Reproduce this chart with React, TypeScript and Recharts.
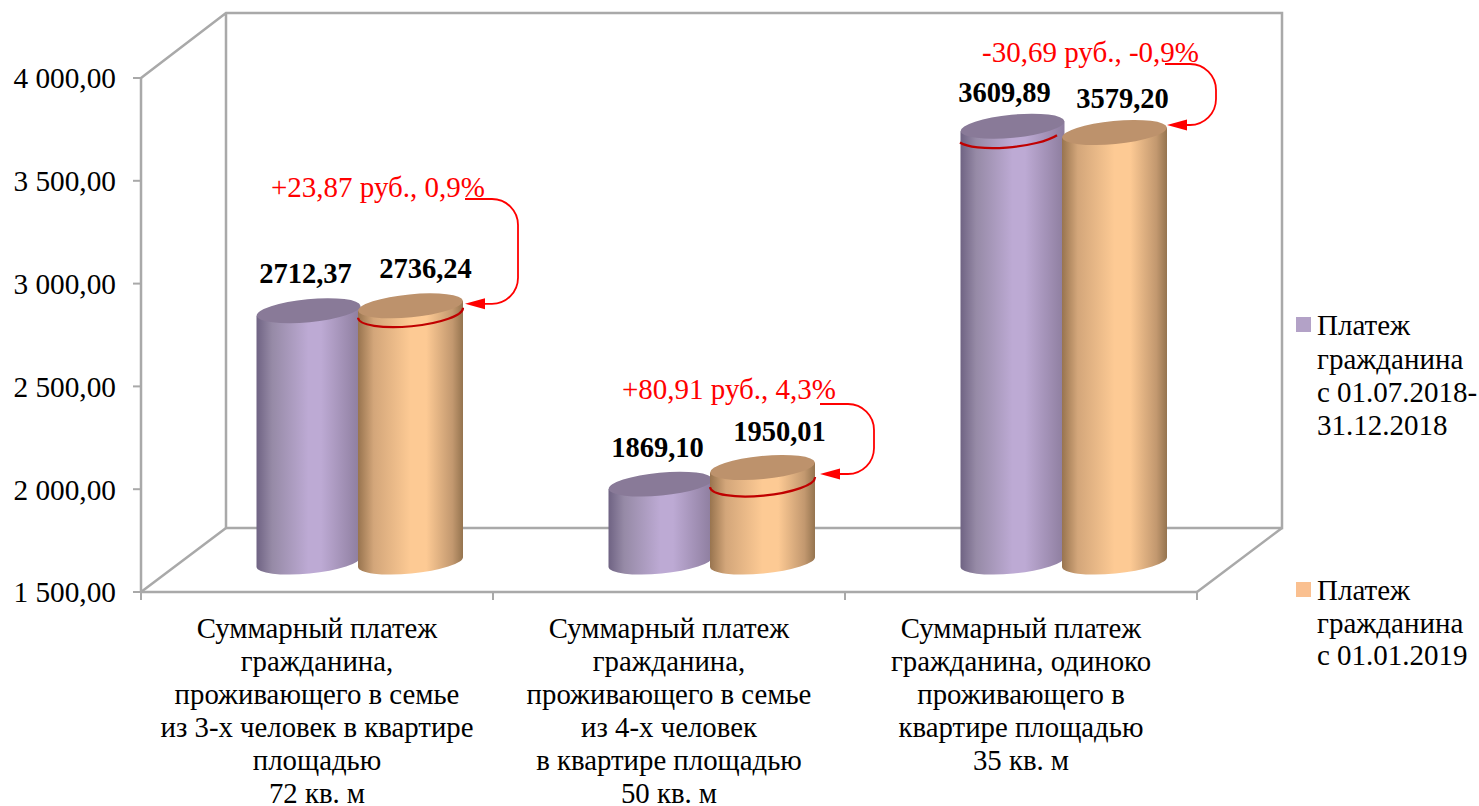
import React from "react";
import { BarChart, Bar, XAxis, YAxis, LabelList } from "recharts";

const categories = ["group1", "group2", "group3"];
const categoryLines = [
  ["Суммарный платеж", "гражданина,", "проживающего в семье", "из 3-х человек в квартире", "площадью", "72 кв. м"],
  ["Суммарный платеж", "гражданина,", "проживающего в семье", "из 4-х человек", "в квартире площадью", "50 кв. м"],
  ["Суммарный платеж", "гражданина, одиноко", "проживающего в", "квартире площадью", "35 кв. м"],
];
const payment2018 = [2712.37, 1869.1, 3609.89];
const payment2019 = [2736.24, 1950.01, 3579.2];
const notes = ["+23,87 руб., 0,9%", "+80,91 руб., 4,3%", "-30,69 руб., -0,9%"];
const yTicks = [1500, 2000, 2500, 3000, 3500, 4000];
const legend2018 = ["Платеж", "гражданина", "с 01.07.2018-", "31.12.2018"];
const legend2019 = ["Платеж", "гражданина", "с 01.01.2019"];

const data = categories.map((c, i) => ({
  category: c,
  a: payment2018[i],
  b: payment2019[i],
  note: notes[i],
  lines: categoryLines[i],
}));

const W = 1479;
const H = 806;
const L = 141;
const T = 78;
const R = 1197;
const B = 592;
const DX = 85;
const DY = 64;
const SCALE = (B - T) / (4000 - 1500);
const FONT = "'Liberation Serif', 'Times New Roman', serif";
const GRID = "#a9a9a9";
const ANG = 5.5;
const RY = 11.5;
const EDGE = 5;

const fmtTick = (v: number) => {
  const s = v.toFixed(2).replace(".", ",");
  return s.slice(0, 1) + " " + s.slice(1);
};
const fmtVal = (v: number) => v.toFixed(2).replace(".", ",");

function Frame() {
  const bandW = (R - L) / 3;
  const line = { stroke: GRID, strokeWidth: 2.5, fill: "none" };
  return (
    <g>
      <path d={`M${L},${T} L${L + DX},${T - DY - 1} L${R + DX},${T - DY - 1} L${R + DX},${B - DY} L${L + DX},${B - DY} L${L + DX},${T - DY - 1}`} {...line} />
      <path d={`M${L},${B} L${L + DX},${B - DY} M${R},${B} L${R + DX},${B - DY}`} {...line} />
      {[0, 1, 2, 3].map((i) => (
        <line key={i} x1={L + i * bandW} x2={L + i * bandW} y1={B} y2={B + 8} stroke={GRID} strokeWidth={2} />
      ))}
    </g>
  );
}

function LegendBlock({ color, lines, mTop, bases }: { color: string; lines: string[]; mTop: number; bases: number[] }) {
  return (
    <g>
      <rect x={1296} y={mTop} width={15} height={15} fill={color} />
      {lines.map((t, i) => (
        <text key={i} x={1317} y={bases[i]} fontFamily={FONT} fontSize={29} fill="#000">
          {t}
        </text>
      ))}
    </g>
  );
}

function Cylinder({ x, y, width, height, grad, top, extra }: any) {
  const cx = x + width / 2 + DX / 2;
  const cy = y - DY / 2;
  const by = y + height - DY / 2 + 2;
  const rx = width / 2 + extra;
  const l = cx - rx;
  const r = cx + rx;
  const arc = `A${rx},${RY} ${-ANG} 0 0`;
  return (
    <g>
      <path d={`M${l},${cy + EDGE} L${l},${by + EDGE} ${arc} ${r},${by - EDGE} L${r},${cy - EDGE} Z`} fill={`url(#${grad})`} />
      <ellipse cx={cx} cy={cy} rx={rx} ry={RY} fill={top} transform={`rotate(${-ANG} ${cx} ${cy})`} />
    </g>
  );
}

const leaders = [
  { tx: 271, ty: 197, x0: 465, y0: 199, xr: 518, tip: 465, rad: 26, tipDy: -2, arcDy: 2 },
  { tx: 622, ty: 399, x0: 820, y0: 404, xr: 874, tip: 820, rad: 26, tipDy: 6.5, arcDy: -2 },
  { tx: 982, ty: 62, x0: 1165, y0: 64, xr: 1216, tip: 1167, rad: 26, tipDy: -7.5, arcDy: 5 },
];
const labelOffsets = {
  a: [{ dx: -3, dy: -28 }, { dx: -3, dy: -27 }, { dx: -8, dy: -24 }],
  b: [{ dx: 15, dy: -28 }, { dx: 17, dy: -26.5 }, { dx: 8, dy: -24.5 }],
};

function OrangeShape(props: any) {
  const { x, y, width, index, payload } = props;
  const i = index as number;
  const other = payload.a;
  const own = payload.b;
  const cxOrange = x + width / 2 + DX / 2;
  const rx = width / 2 + 1.5;
  const ld = leaders[i];
  // front arc: level of the lower bar drawn on the taller one
  const arcY = y + (own - Math.min(own, other)) * SCALE - DY / 2 + ld.arcDy;
  const arcCx = own >= other ? cxOrange : cxOrange - width;
  const arcClipR = own >= other ? arcCx + rx : arcCx + rx - 8;
  const tipY = y - DY / 2 + ld.tipDy;
  const rad = ld.rad;
  const dA = (arcClipR - arcCx) / rx;
  const rEnd = arcY - EDGE * dA - (own >= other ? 0 : -2);
  return (
    <g>
      <Cylinder {...props} grad="gradB" top="#bd926c" extra={1.5} />
      <path
        d={`M${arcCx - rx},${arcY + EDGE} A${rx},13.5 ${-ANG} 0 0 ${arcClipR},${rEnd}`}
        fill="none"
        stroke="#c00000"
        strokeWidth={2.2}
      />
      <text x={ld.tx} y={ld.ty} fontFamily={FONT} fontSize={29} fill="#ff0000">
        {payload.note}
      </text>
      <path
        d={`M${ld.x0},${ld.y0} L${ld.xr - rad},${ld.y0} A${rad},${rad} 0 0 1 ${ld.xr},${ld.y0 + rad} L${ld.xr},${tipY - rad} A${rad},${rad} 0 0 1 ${ld.xr - rad},${tipY} L${ld.tip + 15},${tipY}`}
        fill="none"
        stroke="#ff0000"
        strokeWidth={1.8}
      />
      <path d={`M${ld.tip},${tipY} L${ld.tip + 20},${tipY - 5.5} L${ld.tip + 20},${tipY + 5.5} Z`} fill="#ff0000" />
    </g>
  );
}

const PurpleShape = (props: any) => <Cylinder {...props} grad="gradA" top="#897a98" extra={1} />;

function ValueLabel(props: any) {
  const { x, y, width, value, offsets, index } = props;
  const o = offsets[index];
  return (
    <text
      x={x + width / 2 + DX / 2 + o.dx}
      y={y - DY / 2 + o.dy}
      textAnchor="middle"
      fontFamily={FONT}
      fontWeight="bold"
      fontSize={28.5}
      fill="#000"
    >
      {fmtVal(value)}
    </text>
  );
}

function CategoryTick({ x, y, index }: any) {
  const lines = categoryLines[index] || [];
  return (
    <text textAnchor="middle" fontFamily={FONT} fontSize={28.8} fill="#000">
      {lines.map((t, i) => (
        <tspan key={i} x={x} y={y + 38 + i * 33}>
          {t}
        </tspan>
      ))}
    </text>
  );
}

export default function App() {
  return (
    <div style={{ position: "absolute", left: 0, top: 0, width: W, height: H, background: "#fff" }}>
      <BarChart
        width={W}
        height={H}
        data={data}
        barSize={102}
        barGap={0}
        margin={{ top: T, right: W - R, bottom: 0, left: 0 }}
      >
        <defs>
          <linearGradient id="gradA" x1="0" y1="0" x2="1" y2="0">
            <stop offset="0" stopColor="#6f6383" />
            <stop offset="0.15" stopColor="#968aa6" />
            <stop offset="0.5" stopColor="#bdaad4" />
            <stop offset="0.62" stopColor="#bdaad4" />
            <stop offset="1" stopColor="#8d7d9e" />
          </linearGradient>
          <linearGradient id="gradB" x1="0" y1="0" x2="1" y2="0">
            <stop offset="0" stopColor="#98744f" />
            <stop offset="0.15" stopColor="#d3a67a" />
            <stop offset="0.5" stopColor="#fdca94" />
            <stop offset="0.65" stopColor="#fdca94" />
            <stop offset="0.9" stopColor="#c2986f" />
            <stop offset="1" stopColor="#95744f" />
          </linearGradient>
        </defs>
        <Frame />
        <XAxis
          dataKey="category"
          height={H - B}
          axisLine={{ stroke: GRID, strokeWidth: 2.5 }}
          tickLine={false}
          tick={<CategoryTick />}
          interval={0}
        />
        <YAxis
          domain={[1500, 4000]}
          ticks={yTicks}
          interval={0}
          width={L}
          tickSize={8}
          tickMargin={17}
          tickFormatter={fmtTick}
          axisLine={{ stroke: GRID, strokeWidth: 2.5 }}
          tickLine={{ stroke: GRID, strokeWidth: 2 }}
          tick={{ fontFamily: FONT, fontSize: 29.3, fill: "#000" }}
        />
        <Bar dataKey="a" name="Платеж гражданина с 01.07.2018-31.12.2018" isAnimationActive={false} shape={PurpleShape}>
          <LabelList dataKey="a" content={(p: any) => <ValueLabel {...p} offsets={labelOffsets.a} />} />
        </Bar>
        <Bar dataKey="b" name="Платеж гражданина с 01.01.2019" isAnimationActive={false} shape={OrangeShape}>
          <LabelList dataKey="b" content={(p: any) => <ValueLabel {...p} offsets={labelOffsets.b} />} />
        </Bar>
        <LegendBlock color="#b3a2c7" lines={legend2018} mTop={317} bases={[335, 369, 402, 435]} />
        <LegendBlock color="#fac090" lines={legend2019} mTop={582} bases={[600, 633, 665]} />
      </BarChart>
    </div>
  );
}
